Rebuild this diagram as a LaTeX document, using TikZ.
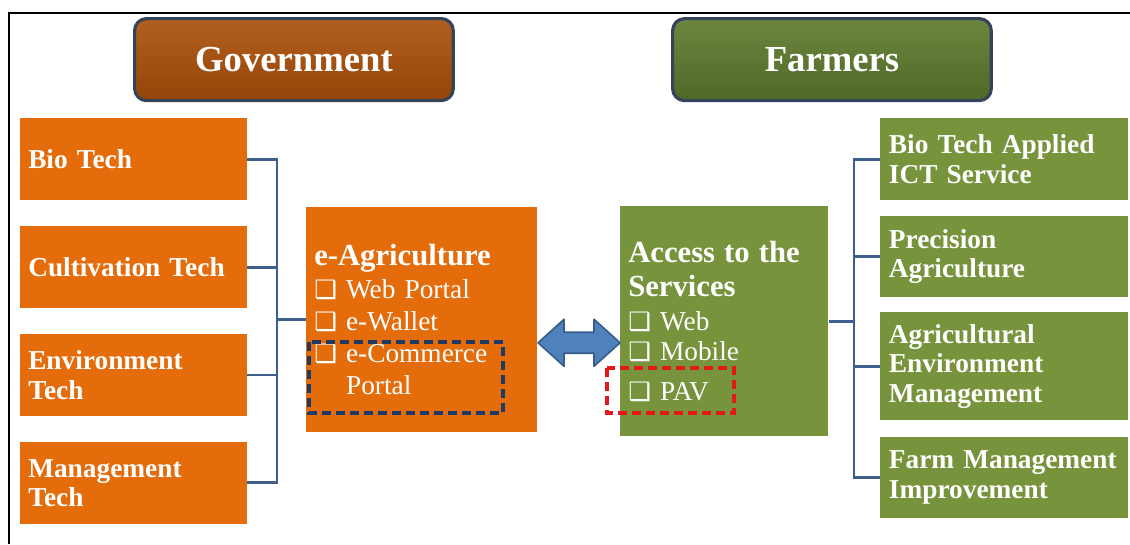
\documentclass[tikz,border=0pt]{standalone}
\usepackage{fontspec}
\setmainfont{Liberation Serif}
\newfontfamily\dejavu{DejaVu Sans}
\usepackage{tikz}
\usetikzlibrary{positioning,calc}
\definecolor{govtop}{RGB}{178,96,32}
\definecolor{govbottom}{RGB}{148,68,8}
\definecolor{farmtop}{RGB}{108,134,62}
\definecolor{farmbottom}{RGB}{80,104,40}
\definecolor{techorange}{RGB}{228,108,10}
\definecolor{servgreen}{RGB}{119,147,60}
\definecolor{titleborder}{RGB}{52,68,90}
\definecolor{linkblue}{RGB}{62,94,142}
\definecolor{arrowblue}{RGB}{79,129,189}
\definecolor{arrowedge}{RGB}{56,93,138}
\definecolor{dashnavy}{RGB}{31,56,100}
\definecolor{dashred}{RGB}{228,24,24}
\newcommand{\chk}{{\dejavu\bfseries\fontsize{19}{19}\selectfont ❑}\ }

\begin{document}
\begin{tikzpicture}[x=0.75pt,y=-0.75pt,
    titlebox/.style={anchor=north west, rounded corners=9pt, draw=titleborder,
        line width=2.4pt, minimum width=239pt, minimum height=61.5pt, text=white,
        font=\fontsize{27.5}{30}\selectfont\bfseries},
    techbox/.style={anchor=north west, fill=techorange, text=white, inner xsep=6pt,
        text width=158pt, minimum height=61.5pt, align=left,
        font=\fontsize{20.5}{22}\selectfont\bfseries},
    servbox/.style={anchor=north west, fill=servgreen, text=white, inner xsep=6.5pt,
        text width=173pt, minimum height=60.75pt, align=left,
        font=\fontsize{20.5}{22}\selectfont\bfseries},
    hubbox/.style={anchor=north west, text=white, inner xsep=6pt, align=left,
        font=\fontsize{20.5}{24}\selectfont},
    link/.style={draw=linkblue, line width=2.2pt},
    highlight/.style={line width=2.8pt, dash pattern=on 7pt off 3.5pt}
]
\useasboundingbox (0,0) rectangle (1130,544);

% frame
\draw[line width=1.8pt] (9,544) -- (9,13) -- (1130,13);

% titles
\node[titlebox, top color=govtop, bottom color=govbottom] (gov) at (133,17) {Government};
\node[titlebox, top color=farmtop, bottom color=farmbottom] (farmers) at (671,17) {Farmers};

% government side
\node[techbox] (biotech) at (20,118) {Bio Tech};
\node[techbox, below=19pt of biotech] (cultivation) {Cultivation Tech};
\node[techbox, below=19pt of cultivation] (environment) {Environment\\Tech};
\node[techbox, below=19pt of environment] (mgmt) {Management\\Tech};

\node[hubbox, fill=techorange, minimum width=173.25pt, minimum height=168.75pt,
    text width=161.25pt] (eagri) at (306,207)
    {{\fontsize{23}{24}\selectfont\bfseries e-Agriculture}\\[1pt]
     \chk Web Portal\\
     \chk e-Wallet\\
     \chk e-Commerce\\
     \hphantom{\chk}Portal};

% farmers side
\node[hubbox, fill=servgreen, minimum width=156pt, minimum height=172.5pt,
    text width=144pt] (access) at (620,206)
    {{\fontsize{23}{24}\selectfont\bfseries Access to the\\[2pt] Services}\\[1pt]
     \chk Web\\[-1.5pt]
     \chk Mobile\\[6pt]
     \chk PAV};

\node[servbox, minimum height=61.5pt] (bioict) at (880,118) {Bio Tech Applied\\ICT Service};
\node[servbox, below=11.25pt of bioict] (precision) {Precision\\Agriculture};
\node[servbox, minimum height=81pt, below=11.25pt of precision] (agrienv)
    {Agricultural\\Environment\\Management};
\node[servbox, below=12pt of agrienv] (farm) {Farm Management\\Improvement};

% connectors
\coordinate (lbus) at (277,0);
\draw[link] (biotech.east) -| (lbus |- mgmt.east) -- (mgmt.east);
\foreach \n in {cultivation,environment}
    \draw[link] (\n.east) -- (\n.east -| lbus);
\draw[link] (lbus |- eagri.west) -- (eagri.west);

\coordinate (rbus) at (854,0);
\draw[link] (bioict.west) -| (rbus |- farm.west) -- (farm.west);
\foreach \n in {precision,agrienv}
    \draw[link] (\n.west) -- (\n.west -| rbus);
\draw[link] (access.east) -- (access.east -| rbus);

% two-way arrow
\draw[fill=arrowblue, draw=arrowedge, line width=1.2pt, line join=round]
    ($(eagri.east)+(0.5,23)$) -- ++(26,-23.5) -- ++(0,13) -- ++(30,0) -- ++(0,-13)
    -- ++(26,23.5) -- ++(-26,23.5) -- ++(0,-13) -- ++(-30,0) -- ++(0,13) -- cycle;

% highlights
\draw[highlight, draw=dashnavy] (309,342) rectangle (503,413);
\draw[highlight, draw=dashred] (607,368) rectangle (734,413);
\end{tikzpicture}
\end{document}
